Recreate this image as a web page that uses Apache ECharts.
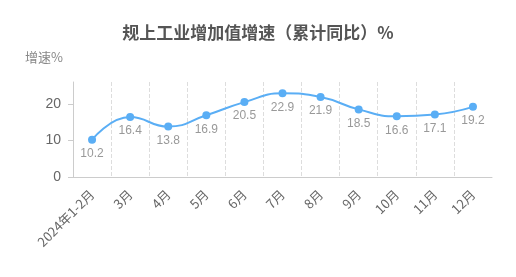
<!DOCTYPE html>
<html><head><meta charset="utf-8">
<script src="https://cdn.jsdelivr.net/npm/echarts@6/dist/echarts.min.js"></script>
<style>html,body{margin:0;padding:0;background:#fff}#c{width:516px;height:277px}</style>
</head><body><div id="c"></div>
<script>
var titleText = '规上工业增加值增速（累计同比）%';
var yName = '增速%';
var categories = ['2024年1-2月','3月','4月','5月','6月','7月','8月','9月','10月','11月','12月'];
var values = [10.2, 16.4, 13.8, 16.9, 20.5, 22.9, 21.9, 18.5, 16.6, 17.1, 19.2];
var yTicks = [0, 10, 20];

// helper axis: one entry per band boundary, used only to draw the dashed separators
var boundaries = categories.map(function () { return ''; }).concat(['']);

var chart = echarts.init(document.getElementById('c'));
chart.setOption({
  animation: false,
  title: {
    text: titleText, left: 'center', top: 19,
    textStyle: {fontSize: 17, fontWeight: 'bold', color: '#555', fontFamily: 'Noto Sans CJK SC'}
  },
  grid: {left: 73, right: 24, top: 82, bottom: 100},
  xAxis: [{
    type: 'category', data: categories, boundaryGap: true,
    axisLine: {lineStyle: {color: '#ccc'}},
    axisTick: {alignWithLabel: true, lineStyle: {color: '#ccc'}},
    axisLabel: {rotate: 45, color: '#666', fontSize: 13, margin: 15, fontFamily: 'Noto Sans CJK SC', interval: 0},
    splitLine: {show: false}
  }, {
    type: 'category', data: boundaries, boundaryGap: false, position: 'bottom',
    axisLine: {show: false}, axisTick: {show: false}, axisLabel: {show: false},
    splitLine: {show: true, interval: function (i) { return i > 0 && i < boundaries.length - 1; },
      lineStyle: {type: 'dashed', color: '#ddd'}}
  }],
  yAxis: {
    type: 'value', min: 0, max: 26, interval: 10,
    name: yName, nameGap: 18,
    nameTextStyle: {color: '#888', fontSize: 13, align: 'right', padding: [0, 10, 0, 0], fontFamily: 'Noto Sans CJK SC'},
    axisLine: {show: true, lineStyle: {color: '#ccc'}},
    axisTick: {show: true, customValues: yTicks, lineStyle: {color: '#ccc'}},
    axisLabel: {color: '#666', fontSize: 14, margin: 12, customValues: yTicks},
    splitLine: {show: false}
  },
  series: [{
    type: 'line', data: values, smooth: true, xAxisIndex: 0,
    symbol: 'circle', symbolSize: 8,
    lineStyle: {color: '#5aaef5', width: 2},
    itemStyle: {color: '#5aaef5'},
    label: {show: true, position: 'bottom', color: '#999', fontSize: 12, distance: 4}
  }]
});
</script></body></html>
